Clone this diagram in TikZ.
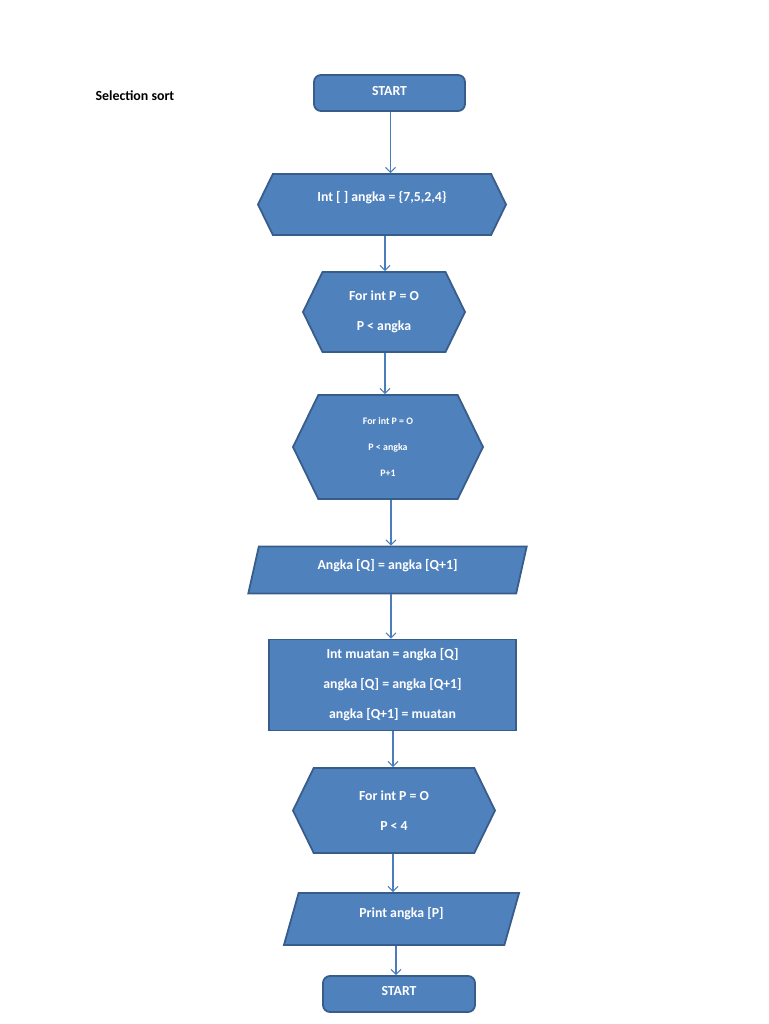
\documentclass[tikz,border=0pt]{standalone}
\usepackage{fontspec}
\setmainfont{Carlito}
\usetikzlibrary{shapes.symbols,shapes.geometric,arrows.meta}
\definecolor{boxfill}{HTML}{4F81BD}
\definecolor{boxline}{HTML}{385D8A}
\definecolor{arrline}{HTML}{4A7EBB}
\tikzset{
  box/.style={fill=boxfill,draw=boxline,line width=1.8pt,text=white,
    font=\bfseries\fontsize{13.8}{30}\selectfont,align=center,inner sep=0pt},
  oneline/.style={text height=9pt,text depth=#1},
  terminal/.style={box,rectangle,rounded corners=7pt},
  hexa/.style={box,signal,signal to=east and west,signal pointer angle=128},
  inout/.style={box,trapezium,trapezium stretches=true,trapezium left angle=74,trapezium right angle=106},
  process/.style={box,rectangle},
  flow/.style={draw=arrline,line width=1.1pt,-{Straight Barb[length=5pt,width=10pt]}}
}
\begin{document}
\begin{tikzpicture}[x=1pt,y=-1pt]
  \useasboundingbox (0,0) rectangle (768,1024);
  \node[anchor=west,font=\bfseries\fontsize{13.9}{15}\selectfont] (title) at (92,96) {Selection sort};

  \node[terminal,oneline=4pt,minimum width=151pt,minimum height=36pt] (start) at (389.5,93) {START};
  \node[hexa,oneline=15pt,minimum width=248pt,minimum height=61pt] (hex1) at (382,204.5) {Int [ ] angka = \{7,5,2,4\}};
  \node[hexa,minimum width=162pt,minimum height=80pt] (hex2) at (384,312) {For int P = O\\P < angka};
  \node[hexa,minimum width=190pt,minimum height=104pt,font=\bfseries\fontsize{9.9}{26}\selectfont] (hex3) at (388,447) {For int P = O\\P < angka\\P+1};
  \node[inout,oneline=11pt,minimum width=279pt,minimum height=47pt] (in1) at (387.5,570) {Angka [Q] = angka [Q+1]};
  \node[process,minimum width=247pt,minimum height=91pt] (swap) at (392.5,685) {Int muatan = angka [Q]\\angka [Q] = angka [Q+1]\\angka [Q+1] = muatan};
  \node[hexa,minimum width=202pt,minimum height=85pt] (hex4) at (394,810.5) {For int P = O\\P < 4};
  \node[inout,oneline=12pt,minimum width=237pt,minimum height=52pt] (out1) at (401.5,919) {Print angka [P]};
  \node[terminal,oneline=6pt,minimum width=152pt,minimum height=36pt] (stop) at (399,994) {START};

  % arrows run straight down, each at its own x
  \foreach \from/\to/\x in {start/hex1/390.5, hex1/hex2/385, hex2/hex3/385, hex3/in1/391,
      in1/swap/391, swap/hex4/393, hex4/out1/393, out1/stop/396}
    \draw[flow] (\x,0 |- \from.south) -- (\x,0 |- \to.north);
\end{tikzpicture}
\end{document}
